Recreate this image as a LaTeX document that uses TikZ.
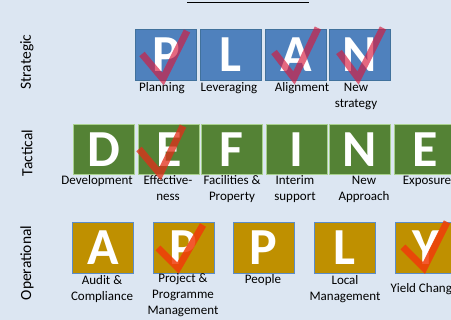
\documentclass[tikz,border=0pt]{standalone}
\usepackage{fontspec}
\setmainfont{Carlito}
\usetikzlibrary{positioning}

\definecolor{bgblue}{HTML}{DCE6F2}
\definecolor{planblue}{HTML}{4F81BD}
\definecolor{planedge}{HTML}{41719C}
\definecolor{definegreen}{HTML}{548235}
\definecolor{defineedge}{HTML}{A9D18E}
\definecolor{applygold}{HTML}{BF9000}
\definecolor{applyedge}{HTML}{5B8CC8}
\definecolor{chkcrimson}{RGB}{215,25,60}
\definecolor{chkred}{RGB}{225,45,25}
\definecolor{chkorange}{RGB}{240,60,10}

\begin{document}
\begin{tikzpicture}[x=1pt,y=-1pt]

    % let's define some key values
    \def\boxw{61}
    \def\boxh{51}
    \def\yplan{29}
    \def\ydefine{124}
    \def\yapply{222}

    % Styles
    \tikzstyle{letterbox}=[anchor=north west, minimum width=\boxw pt,
        minimum height=\boxh pt, inner sep=0pt, text=white,
        font=\fontsize{52}{52}\selectfont\bfseries]
    \tikzstyle{planbox}=[letterbox, fill=planblue, draw=planedge, line width=0.8pt]
    \tikzstyle{definebox}=[letterbox, fill=definegreen, draw=defineedge,
        line width=0.8pt, minimum height=50pt]
    \tikzstyle{applybox}=[letterbox, fill=applygold, draw=applyedge, line width=0.6pt]
    % base of a label is the baseline of its last line
    \tikzstyle{lbl}=[anchor=base, inner sep=0pt, align=center,
        font=\fontsize{13}{16}\selectfont]
    \tikzstyle{level}=[rotate=90, inner sep=0pt, font=\fontsize{15.5}{18}\selectfont]
    \tikzstyle{tick}=[line width=7pt, line cap=butt, line join=miter]

    % background
    \fill[bgblue] (0,0) rectangle (451,320);
    \useasboundingbox (0,0) rectangle (451,320);

    % title underline
    \draw[line width=0.9pt] (187,2.6) -- (309,2.6);

    % levels
    \node[level] (strategic) at (27,62) {Strategic};
    \node[level] (tactical) at (27,153) {Tactical};
    \node[level] (operational) at (27,263) {Operational};

    % strategic row
    \node[planbox] (planp) at (135,\yplan) {P};
    \node[planbox] (planl) at (200,\yplan) {L};
    \node[planbox] (plana) at (265,\yplan) {A};
    \node[planbox] (plann) at (329,\yplan) {N};
    \node[lbl] (lplanning) at (162,92) {Planning};
    \node[lbl] (lleveraging) at (229,92) {Leveraging};
    \node[lbl] (lalignment) at (302,92) {Alignment};
    \node[lbl] (lnewstrategy) at (356,108) {New\\strategy};

    % tactical row
    \node[definebox] (defd) at (73,\ydefine) {D};
    \node[definebox] (defe) at (138,\ydefine) {E};
    \node[definebox] (deff) at (201,\ydefine) {F};
    \node[definebox] (defi) at (266,\ydefine) {I};
    \node[definebox] (defn) at (329,\ydefine) {N};
    \node[definebox] (defee) at (394,\ydefine) {E};
    \node[lbl] (ldevelopment) at (97,185) {Development};
    \node[lbl] (leffectiveness) at (168,201) {Effective-\\ness};
    \node[lbl] (lfacilities) at (232,201) {Facilities \&\\Property};
    \node[lbl] (linterim) at (295,201) {Interim\\support};
    \node[lbl] (lnewapproach) at (364,201) {New\\Approach};
    \node[lbl] (lexposure) at (427,185) {Exposure};

    % operational row
    \node[applybox] (appa) at (72,\yapply) {A};
    \node[applybox] (appp) at (153,\yapply) {P};
    \node[applybox] (apppp) at (233,\yapply) {P};
    \node[applybox] (appl) at (314,\yapply) {L};
    \node[applybox] (appy) at (395,\yapply) {Y};
    \node[lbl] (laudit) at (102,301) {Audit \&\\Compliance};
    \node[lbl] (lproject) at (183,315) {Project \&\\Programme\\Management};
    \node[lbl] (lpeople) at (263,284) {People};
    \node[lbl] (llocal) at (345,301) {Local\\Management};
    \node[lbl] (lyield) at (424.5,293) {Yield Change};

    % ticks
    \draw[tick, chkcrimson, opacity=0.65] (142,54) -- (163,79) -- (187,31);
    \draw[tick, chkcrimson, opacity=0.65] (274,52) -- (294,78) -- (318,28);
    \draw[tick, chkcrimson, opacity=0.65] (339,52) -- (358,78) -- (383,28);
    \draw[tick, chkred, opacity=0.75] (139,149) -- (160,174) -- (183,126);
    \draw[tick, chkorange, opacity=0.85] (158,248) -- (178,268) -- (203,225);
    \draw[tick, chkorange, opacity=0.85] (403,247) -- (424,268) -- (447,222);

\end{tikzpicture}
\end{document}
